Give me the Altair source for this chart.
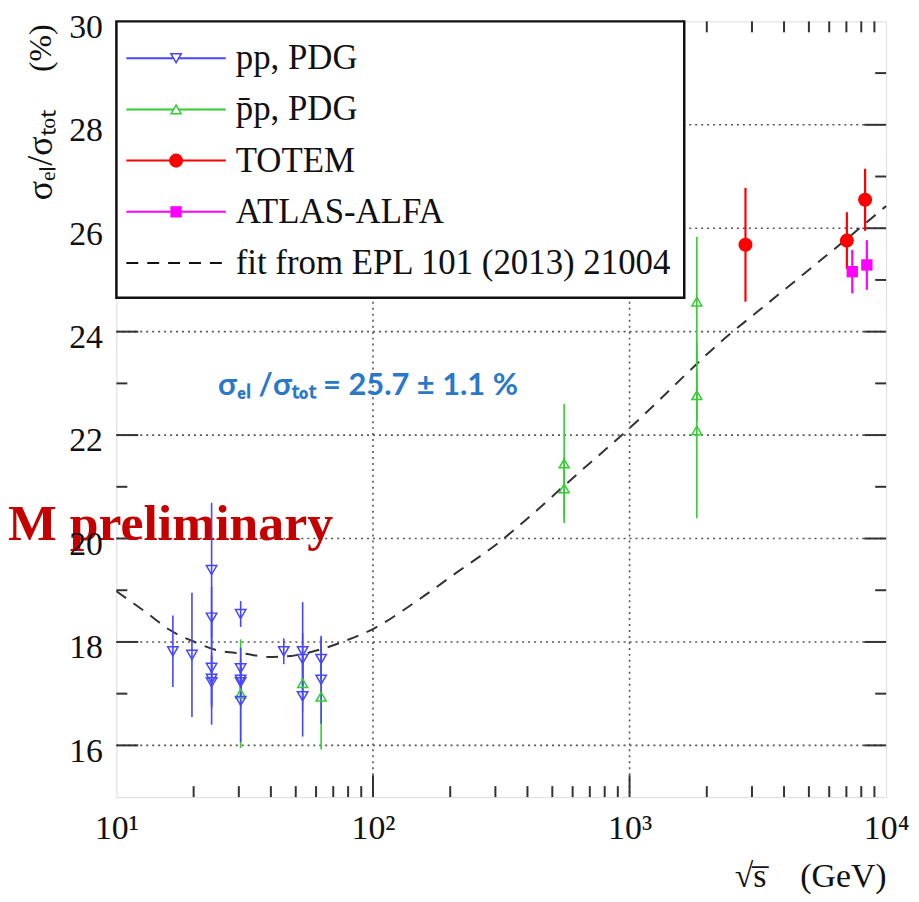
import altair as alt
import pandas as pd

# ---------------- data ----------------
# pp, PDG  (sqrt(s) in GeV, sigma_el/sigma_tot in %, error)
pp_sqrt_s = [16.6, 19.7, 23.5, 23.5, 23.5, 23.5, 23.5, 30.5, 30.5, 30.5, 30.5, 30.5, 44.9, 53.2, 53.2, 53.2, 62.8, 62.8]
pp_ratio = [17.82, 17.75, 19.39, 18.47, 17.50, 17.29, 17.22, 18.54, 17.49, 17.27, 17.22, 16.86, 17.82, 17.82, 17.67, 16.95, 17.67, 17.27]
pp_err = [0.69, 1.20, 1.30, 0.60, 1.10, 0.50, 0.50, 0.25, 0.40, 0.30, 0.30, 0.80, 0.25, 0.95, 0.50, 0.78, 0.40, 0.85]

# pbar-p, PDG
pbp_sqrt_s = [30.5, 53.2, 62.8, 556, 556, 1829, 1829, 1829]
pbp_ratio = [17.00, 17.20, 16.94, 21.45, 20.97, 24.58, 22.77, 22.09]
pbp_err = [1.05, 0.55, 1.02, 1.15, 0.60, 1.25, 0.50, 1.70]

# TOTEM
totem_sqrt_s = [2830, 7030, 8280]
totem_ratio = [25.68, 25.76, 26.55]
totem_err = [1.10, 0.55, 0.60]

# ATLAS-ALFA
alfa_sqrt_s = [7380, 8410]
alfa_ratio = [25.16, 25.29]
alfa_err = [0.42, 0.48]

# fit from EPL 101 (2013) 21004
fit_sqrt_s = [10.0, 13.4, 16.05, 20.4, 25.1, 31.9, 39.2, 48.1, 62.9, 77.8, 100, 149, 213, 305, 399, 550, 1018, 2377, 3305, 9310, 10000]
fit_ratio = [18.98, 18.53, 18.24, 17.99, 17.83, 17.77, 17.71, 17.73, 17.86, 18.02, 18.25, 18.80, 19.35, 19.90, 20.38, 21.00, 22.17, 23.89, 24.47, 26.30, 26.43]

# axes
x_tick_values = [10, 100, 1000, 10000]
x_tick_labels = ["10¹", "10²", "10³", "10⁴"]
x_minor_values = [20, 30, 40, 50, 60, 70, 80, 90, 200, 300, 400, 500, 600, 700, 800, 900,
                  2000, 3000, 4000, 5000, 6000, 7000, 8000, 9000]
x_grid_values = [100, 1000]
y_tick_values = [16, 18, 20, 22, 24, 26, 28, 30]
y_grid_values = [16, 18, 20, 22, 24, 26, 28]
y_minor_values = [17, 19, 21, 23, 25, 27, 29]

legend_labels = ["pp, PDG", "p̄p, PDG", "TOTEM", "ATLAS-ALFA", "fit from EPL 101 (2013) 21004"]
annotation_text = "σₑₗ /σₜₒₜ = 25.7 ± 1.1 %"
watermark_text = "M preliminary"
y_title_main = "σₑₗ/σₜₒₜ"
y_title_unit = "(%)"
x_title = "√s̅\u2002\u2002(GeV)"

# ---------------- styling ----------------
W, H = 774, 780
SERIF = "Liberation Serif"
BLUE, GREEN, RED, MAGENTA, FITC = "#4646ff", "#33cc33", "#ff0000", "#ff00ff", "#333333"

xs = alt.Scale(type="log", domain=[10, 10000], nice=False)
ys = alt.Scale(domain=[15, 30], nice=False, zero=False)

label_expr = "''"
for v, lab in zip(reversed(x_tick_values), reversed(x_tick_labels)):
    label_expr = f"datum.value == {v} ? '{lab}' : ({label_expr})"

xaxis = alt.Axis(values=x_tick_values, labelExpr=label_expr, ticks=False, domain=False, grid=False,
                 labelFont=SERIF, labelFontSize=34, labelColor="#111", labelPadding=15,
                 labelFlush=False, labelOverlap=False,
                 title=x_title, titleFont=SERIF, titleFontSize=34, titleFontWeight="normal",
                 titleColor="#111", titleX=W, titleY=80, titleAlign="right", titleBaseline="middle",
                 zindex=1)
yaxis = alt.Axis(values=y_tick_values, format="d", ticks=False, domain=False, grid=False,
                 labelFont=SERIF, labelFontSize=34, labelColor="#111", labelPadding=14,
                 labelOverlap=False, labelOffset=6,
                 title=y_title_main, titleFont=SERIF, titleFontSize=36, titleFontWeight="normal",
                 titleColor="#111", titleAngle=270, titleX=-76, titleY=134,
                 titleAlign="center", titleBaseline="middle", zindex=1)


def X(field):
    return alt.X(field, type="quantitative", scale=xs, axis=xaxis)


def Y(field):
    return alt.Y(field, type="quantitative", scale=ys, axis=yaxis)


dummy = pd.DataFrame({"k": [0]})
layers = []

# grid
layers.append(alt.Chart(pd.DataFrame({"v": x_grid_values})).mark_rule(
    color="#555", strokeWidth=1.6, strokeDash=[2, 4]).encode(x=X("v"), y=alt.value(0), y2=alt.value(H)))
layers.append(alt.Chart(pd.DataFrame({"v": y_grid_values})).mark_rule(
    color="#555", strokeWidth=1.6, strokeDash=[2, 4]).encode(y=Y("v"), x=alt.value(0), x2=alt.value(W)))

# ticks (inward)
xmaj = pd.DataFrame({"v": x_grid_values})
xmin = pd.DataFrame({"v": x_minor_values})
ymaj = pd.DataFrame({"v": y_grid_values})
ymin = pd.DataFrame({"v": y_minor_values})
tk = dict(color="#333", strokeWidth=2)
for df, ln in ((xmaj, 22), (xmin, 11)):
    layers.append(alt.Chart(df).mark_rule(**tk).encode(x=X("v"), y=alt.value(H), y2=alt.value(H - ln)))
    layers.append(alt.Chart(df).mark_rule(**tk).encode(x=X("v"), y=alt.value(0), y2=alt.value(ln)))
for df, ln in ((ymaj, 22), (ymin, 11)):
    layers.append(alt.Chart(df).mark_rule(**tk).encode(y=Y("v"), x=alt.value(0), x2=alt.value(ln)))
    layers.append(alt.Chart(df).mark_rule(**tk).encode(y=Y("v"), x=alt.value(W), x2=alt.value(W - ln)))

# y-axis unit, part of the rotated title
layers.append(alt.Chart(dummy).mark_text(
    font=SERIF, fontSize=32, color="#111", angle=270, align="center", baseline="middle"
).encode(x=alt.value(-76), y=alt.value(27), text=alt.value(y_title_unit)))

# watermark
layers.append(alt.Chart(dummy).mark_text(
    font=SERIF, fontSize=52, fontWeight="bold", color="#c40000", align="left", baseline="alphabetic"
).encode(x=alt.value(-109), y=alt.value(521), text=alt.value(watermark_text)))

# fit
fit_df = pd.DataFrame({"s": fit_sqrt_s, "r": fit_ratio})
layers.append(alt.Chart(fit_df).mark_line(color=FITC, strokeWidth=2, strokeDash=[12, 9],
                                          interpolate="monotone").encode(x=X("s"), y=Y("r")))


def series(s, r, e):
    df = pd.DataFrame({"s": s, "r": r, "e": e})
    df["lo"] = df["r"] - df["e"]
    df["hi"] = df["r"] + df["e"]
    return df


pbp = series(pbp_sqrt_s, pbp_ratio, pbp_err)
pp = series(pp_sqrt_s, pp_ratio, pp_err)
tot = series(totem_sqrt_s, totem_ratio, totem_err)
alfa = series(alfa_sqrt_s, alfa_ratio, alfa_err)

for df, col, sw in ((pbp, GREEN, 1.6), (pp, BLUE, 1.6), (tot, RED, 2.2), (alfa, MAGENTA, 2.2)):
    layers.append(alt.Chart(df).mark_rule(color=col, strokeWidth=sw).encode(
        x=X("s"), y=alt.Y("lo", type="quantitative", scale=ys, axis=yaxis), y2="hi"))

marker_styles = [
    (pbp, "triangle-up", False, GREEN, 100),
    (pp, "triangle-down", False, BLUE, 110),
    (tot, "circle", True, RED, 200),
    (alfa, "square", True, MAGENTA, 130),
]
for df, shape, filled, col, size in marker_styles:
    layers.append(alt.Chart(df).mark_point(shape=shape, filled=filled, color=col, size=size,
                                           strokeWidth=1.5, opacity=1).encode(x=X("s"), y=Y("r")))

# legend box
layers.append(alt.Chart(dummy).mark_rect(fill="white", stroke="#111", strokeWidth=2.5).encode(
    x=alt.value(0), x2=alt.value(571), y=alt.value(0), y2=alt.value(278)))

legend_style = [
    (BLUE, "triangle-down", False, 110, None),
    (GREEN, "triangle-up", False, 100, None),
    (RED, "circle", True, 200, None),
    (MAGENTA, "square", True, 130, None),
    ("#111", None, False, 0, [12, 9]),
]
for i, (lab, (col, shape, filled, size, dash)) in enumerate(zip(legend_labels, legend_style)):
    yy = 37 + 51.5 * i
    rule_kw = dict(color=col, strokeWidth=2)
    if dash:
        rule_kw["strokeDash"] = dash
    layers.append(alt.Chart(dummy).mark_rule(**rule_kw).encode(
        x=alt.value(10), x2=alt.value(110), y=alt.value(yy)))
    if shape:
        mk = dict(shape=shape, filled=filled, color=col, size=size, strokeWidth=1.5, opacity=1)
        if not filled:
            mk["fill"] = "white"
            mk["fillOpacity"] = 1
        layers.append(alt.Chart(dummy).mark_point(**mk).encode(x=alt.value(60), y=alt.value(yy)))
    layers.append(alt.Chart(dummy).mark_text(font=SERIF, fontSize=35, color="#111", align="left",
                                             baseline="middle").encode(
        x=alt.value(120), y=alt.value(yy), text=alt.value(lab)))

# annotation
layers.append(alt.Chart(dummy).mark_text(font="Lato", fontSize=31, fontWeight="bold", color="#2a78c8",
                                         align="center", baseline="middle").encode(
    x=alt.value(253), y=alt.value(367), text=alt.value(annotation_text)))

chart = alt.layer(*layers).properties(
    width=W, height=H,
    autosize=alt.AutoSizeParams(type="none"),
    padding={"left": 109, "top": 11, "right": 25, "bottom": 95},
).configure_view(stroke="#333", strokeWidth=2.2).configure(background="white")

chart.save("out.html", embed_options={"renderer": "svg", "actions": False})
